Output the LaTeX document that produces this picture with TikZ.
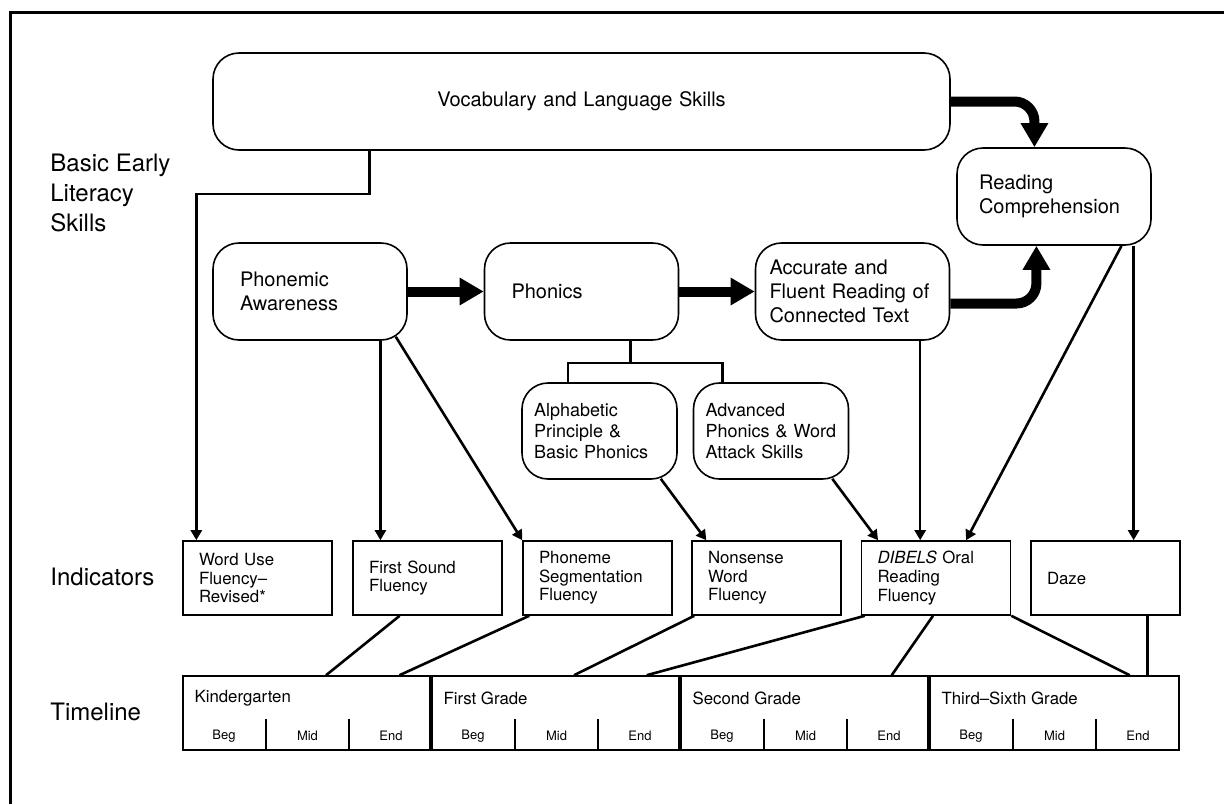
\documentclass[tikz,border=0pt]{standalone}
\usepackage{fontspec}
\setmainfont{TeX Gyre Heros}
\usetikzlibrary{arrows.meta,calc}

\tikzset{
  skill/.style={draw, line width=0.8pt, rounded corners=13pt, minimum height=48.5pt,
    inner xsep=12pt, text width=73pt, align=left, font=\fontsize{10}{12}\selectfont},
  subskill/.style={draw, line width=0.8pt, rounded corners=13pt, minimum height=48pt,
    inner xsep=6pt, text width=65.5pt, align=left, font=\fontsize{9}{10.3}\selectfont},
  indicator/.style={draw, line width=0.8pt, minimum height=37pt, inner xsep=8pt,
    text width=58.5pt, align=left, font=\fontsize{8.4}{9.3}\selectfont},
  grade/.style={draw, line width=0.8pt, minimum width=124.5pt, minimum height=37pt, inner sep=0pt},
  gradelab/.style={anchor=west, inner sep=0pt, font=\fontsize{8.4}{10}\selectfont},
  term/.style={inner sep=0pt, font=\fontsize{6.5}{8}\selectfont},
  rowlab/.style={anchor=west, inner sep=0pt, align=left, font=\fontsize{12}{15}\selectfont},
  arr/.style={line width=1.3pt, -{Triangle[length=5pt,width=5.5pt]}},
  bigarr/.style={line width=5pt, rounded corners=10pt, -{Triangle[length=12pt,width=13pt]}},
  link/.style={line width=1.3pt}
}

\begin{document}
\begin{tikzpicture}[x=0.5pt,y=-0.5pt]
	\useasboundingbox (0,0) rectangle (1224,804);
	\draw[line width=1.5pt] (10,804) -- (10,12) -- (1224,12);

	% row labels
	\node[rowlab] (basic) at (50,193) {Basic Early\\Literacy\\Skills};
	\node[rowlab] (indic) at (50,577) {Indicators};
	\node[rowlab] (time) at (50,712) {Timeline};

	% skills
	\node[skill, text width=344.5pt, align=center] (vocab) at (581.5,101.5) {Vocabulary and Language Skills};
	\node[skill, inner xsep=11pt, text width=75pt] (rc) at (1054,196.5) {Reading\\Comprehension};
	\node[skill, inner xsep=13.5pt, text width=70pt] (pa) at (310,291.5) {Phonemic\\Awareness};
	\node[skill, inner xsep=13.5pt, text width=70pt] (ph) at (581.5,291.5) {Phonics};
	\node[skill, inner xsep=7pt, text width=83pt] (acc) at (852.5,291.5) {Accurate and\\Fluent Reading of\\Connected Text};
	\node[subskill] (alpha) at (599.5,431) {Alphabetic\\Principle \&\\Basic Phonics};
	\node[subskill] (adv) at (771,431) {Advanced\\Phonics \& Word\\Attack Skills};

	% indicators
	\node[indicator] (wuf) at (257.5,578) {Word Use\\Fluency--\\Revised*};
	\node[indicator] (fsf) at (427.5,578) {First Sound\\Fluency};
	\node[indicator] (psf) at (597.5,578) {Phoneme\\Segmentation\\Fluency};
	\node[indicator] (nwf) at (766.5,578) {Nonsense\\Word\\Fluency};
	\node[indicator] (dorf) at (936,578) {\textit{DIBELS} Oral\\Reading\\Fluency};
	\node[indicator] (daze) at (1105.5,578) {Daze};

	% timeline
	\foreach \g/\lab [count=\i from 0] in {kg/Kindergarten, first/First Grade, second/Second Grade, third/Third--Sixth Grade}{
		\node[grade] (\g) at (307.5+249*\i,713) {};
		\node[gradelab] (\g-lab) at ($(\g.north west)+(12,23)$) {\lab};
		\foreach \p/\s [count=\j] in {beg/Beg, mid/Mid, end/End}
			\node[term, yshift=7.5pt] (\g-\p) at ($(\g.south west)!{(\j-0.5)/3}!(\g.south east)$) {\s};
		\draw[line width=0.8pt] ($(\g.south west)!1/3!(\g.south east)$) -- ++(0,-32);
		\draw[line width=0.8pt] ($(\g.south west)!2/3!(\g.south east)$) -- ++(0,-32);
	}
	\draw[line width=1.8pt] (first.north west) -- (first.south west);
	\draw[line width=1.8pt] (second.north west) -- (second.south west);
	\draw[line width=1.8pt] (third.north west) -- (third.south west);

	% big arrows
	\draw[bigarr] (pa.east) -- (ph.west);
	\draw[bigarr] (ph.east) -- (acc.west);
	\draw[bigarr] (vocab.east) -| ($(rc.north west)!.4!(rc.north east)$);
	\draw[bigarr] ([yshift=-6pt]acc.east) -| ($(rc.south west)!.41!(rc.south east)$);

	% phonics fork
	\draw[link] ($(ph.south west)!.75!(ph.south east)$) -- ++(0,22) coordinate (fork);
	\draw[link] ($(alpha.north west)!.3!(alpha.north east)$) |- (fork) -| ($(adv.north west)!.19!(adv.north east)$);

	% skills to indicators
	\draw[arr] ($(vocab.south west)!.213!(vocab.south east)$) -- ++(0,43) -| ($(wuf.north west)!.094!(wuf.north east)$);
	\draw[arr] ($(pa.south west)!.86!(pa.south east)$) coordinate (pafs) -- (pafs |- fsf.north);
	\draw[arr] ($(pa.south east)+(-12,-4)$) -- (psf.north west);
	\draw[arr] ($(alpha.south east)+(-17,-1)$) -- ($(nwf.north west)!.1!(nwf.north east)$);
	\draw[arr] ($(adv.south east)+(-17,-1)$) -- ($(dorf.north west)!.115!(dorf.north east)$);
	\draw[arr] ($(acc.south west)!.846!(acc.south east)$) coordinate (accd) -- (accd |- dorf.north);
	\draw[arr] ($(rc.south west)!.845!(rc.south east)$) -- ($(dorf.north west)!.70!(dorf.north east)$);
	\draw[arr] ($(rc.south west)!.907!(rc.south east)$) coordinate (rcd) -- (rcd |- daze.north);

	% indicators to timeline
	\draw[link] ($(fsf.south west)!.315!(fsf.south east)$) -- ($(kg.north west)!.574!(kg.north east)$);
	\draw[link] ($(psf.south west)!.047!(psf.south east)$) -- ($(kg.north west)!.867!(kg.north east)$);
	\draw[link] ($(nwf.south west)!.02!(nwf.south east)$) -- ($(first.north west)!.57!(first.north east)$);
	\draw[link] ($(dorf.south west)!.027!(dorf.south east)$) -- ($(first.north west)!.86!(first.north east)$);
	\draw[link] ($(dorf.south west)!.48!(dorf.south east)$) -- ($(second.north west)!.844!(second.north east)$);
	\draw[link] (dorf.south east) -- ($(third.north west)!.8!(third.north east)$);
	\draw[link] ($(daze.south west)!.78!(daze.south east)$) coordinate (dzd) -- (dzd |- third.north);
\end{tikzpicture}
\end{document}
